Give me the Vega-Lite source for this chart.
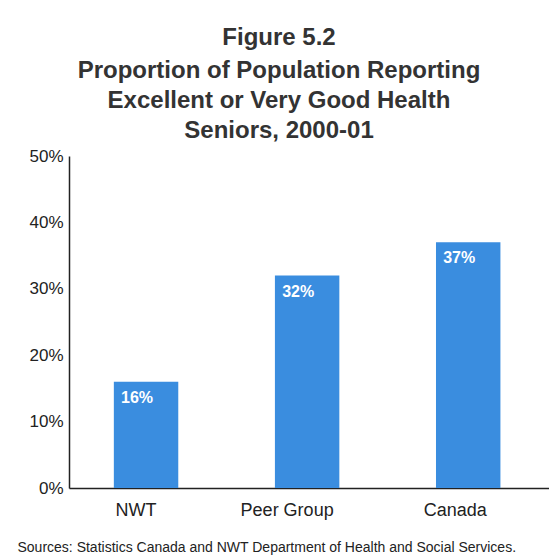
{
  "$schema": "https://vega.github.io/schema/vega-lite/v6.json",
  "autosize": {"type": "none"},
  "width": 480,
  "height": 332,
  "padding": {"left": 69, "top": 156, "right": 0, "bottom": 67},
  "background": "white",
  "config": {"view": {"stroke": null}, "font": "Liberation Sans"},
  "title": {
    "text": "Figure 5.2",
    "subtitle": ["Proportion of Population Reporting", "Excellent or Very Good Health", "Seniors, 2000-01"],
    "font": "Liberation Sans",
    "subtitleFont": "Liberation Sans",
    "fontSize": 24,
    "subtitleFontSize": 24,
    "fontWeight": "bold",
    "subtitleFontWeight": "bold",
    "color": "#333333",
    "subtitleColor": "#333333",
    "subtitleLineHeight": 30,
    "subtitlePadding": 9,
    "anchor": "middle",
    "dx": -30,
    "offset": 4
  },
  "data": {
    "values": [
      {"region": "NWT", "pct": 0.16},
      {"region": "Peer Group", "pct": 0.32},
      {"region": "Canada", "pct": 0.37}
    ]
  },
  "encoding": {
    "x": {
      "field": "region",
      "type": "nominal",
      "sort": null,
      "scale": {"paddingInner": 0.6, "paddingOuter": 0.29, "align": 0.48},
      "axis": {
        "title": "Sources: Statistics Canada and NWT Department of Health and Social Services.",
        "titleFontSize": 14,
        "titleFontWeight": "normal",
        "titleColor": "#222222",
        "titleAnchor": "start",
        "titleAlign": "left",
        "titleX": -52,
        "titleY": 63,
        "titleBaseline": "alphabetic",
        "labelAngle": 0,
        "labelFontSize": 18,
        "labelColor": "#222222",
        "labelPadding": 13,
        "labelOffset": {"condition": [{"test": "datum.value === 'NWT'", "value": -10}, {"test": "datum.value === 'Peer Group'", "value": -20}], "value": -13},
        "ticks": false,
        "tickSize": 0,
        "domainColor": "#222222",
        "domainWidth": 1.5
      }
    },
    "y": {
      "field": "pct",
      "type": "quantitative",
      "scale": {"domain": [0, 0.5], "nice": false},
      "axis": {
        "title": null,
        "format": ".0%",
        "values": [0, 0.1, 0.2, 0.3, 0.4, 0.5],
        "grid": false,
        "ticks": false,
        "tickSize": 0,
        "labelPadding": 6,
        "labelFontSize": 17,
        "labelColor": "#222222",
        "domainColor": "#222222",
        "domainWidth": 1.5
      }
    }
  },
  "layer": [
    {"mark": {"type": "bar", "color": "#3a8ddf"}},
    {
      "mark": {"type": "text", "align": "left", "baseline": "alphabetic", "dx": -25, "dy": 21, "color": "white", "fontWeight": "bold", "fontSize": 16},
      "encoding": {"text": {"field": "pct", "type": "quantitative", "format": ".0%"}}
    }
  ]
}
